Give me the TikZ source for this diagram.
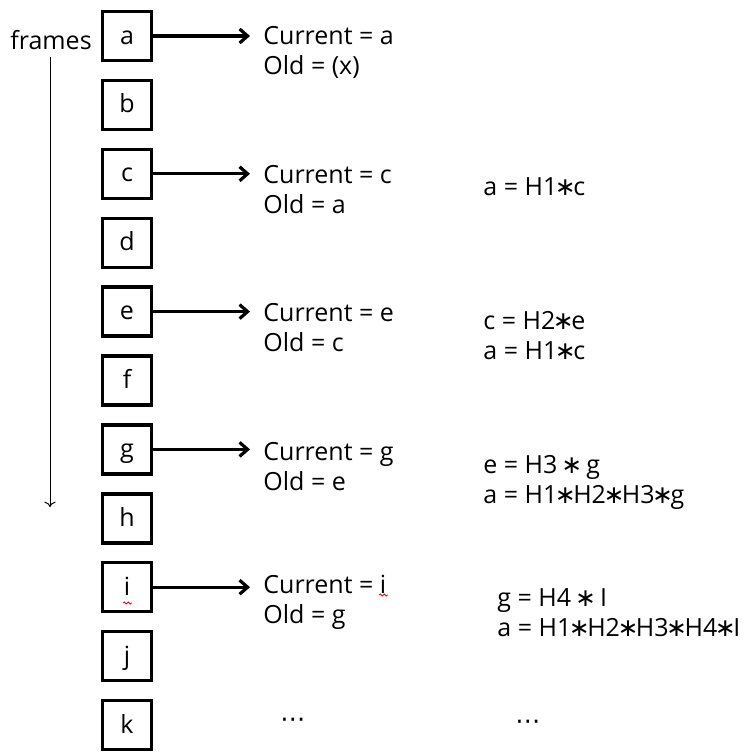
\documentclass[tikz,border=0pt]{standalone}
\usepackage{fontspec}
\setmainfont{Open Sans}
\newfontfamily\opfont{DejaVu Sans}
\newcommand\opstar{{\opfont\kern-0.1em ∗\kern-0.1em}}
\newcommand\middots{{\opfont ⋯}}
\usetikzlibrary{positioning,arrows.meta,decorations.pathmorphing}

\begin{document}
\begin{tikzpicture}[x=0.5pt, y=-0.5pt,
    frame/.style={draw, line width=1.7pt, minimum width=24.5pt, minimum height=24.5pt,
                  inner sep=0pt, text height=0.8em, text depth=0pt,
                  font=\fontsize{12.5}{15}\selectfont},
    info/.style={anchor=west, align=left, inner sep=0pt, font=\fontsize{12.5}{15}\selectfont},
    link/.style={-{Straight Barb[length=4pt, width=7pt]}, line width=1.6pt, shorten >=6.5pt},
    squiggle/.style={red, line width=0.4pt, decorate,
                     decoration={snake, segment length=2pt, amplitude=0.5pt}}]
    \useasboundingbox (0,0) rectangle (751,755);

    % column of frames
    \foreach \f [count=\i from 0] in {a,b,c,d,e,f,g,h,i,j,k}
        \node[frame] (\f) at (127, {36+68.9*\i}) {\f};

    % time axis
    \node[info] (frames) at (10,40) {frames};
    \coordinate (tstart) at (50,57);
    \coordinate (tend) at (50,507);
    \draw[->, line width=0.5pt] (tstart) -- (tend);

    % current / old
    \node[info] (ca) at (263,52)  {Current = a\\Old = (x)};
    \node[info] (cc) at (263,190) {Current = c\\Old = a};
    \node[info] (ce) at (263,328) {Current = e\\Old = c};
    \node[info] (cg) at (263,467) {Current = g\\Old = e};
    \node[info] (ci) at (263,602) {Current = i\\Old = g};
    \node[info] (cdots) at (280,723) {\middots};

    \foreach \f in {a,c,e,g,i}
        \draw[link] (\f) -- (\f -| c\f.west);

    % spell-check marks
    \draw[squiggle] (123,603) -- (132,603);
    \draw[squiggle] (379,595) -- (388,595);

    % filter chain
    \node[info] (ra) at (483,187) {a = H1\opstar c};
    \node[info] (rc) at (483,336) {c = H2\opstar e\\a = H1\opstar c};
    \node[info] (re) at (483,482) {e = H3 \opstar\ g\\a = H1\opstar H2\opstar H3\opstar g};
    \node[info] (rg) at (497,613) {g = H4 \opstar\ I\\a = H1\opstar H2\opstar H3\opstar H4\opstar I};
    \node[info] (rdots) at (515,725) {\middots};
\end{tikzpicture}
\end{document}
